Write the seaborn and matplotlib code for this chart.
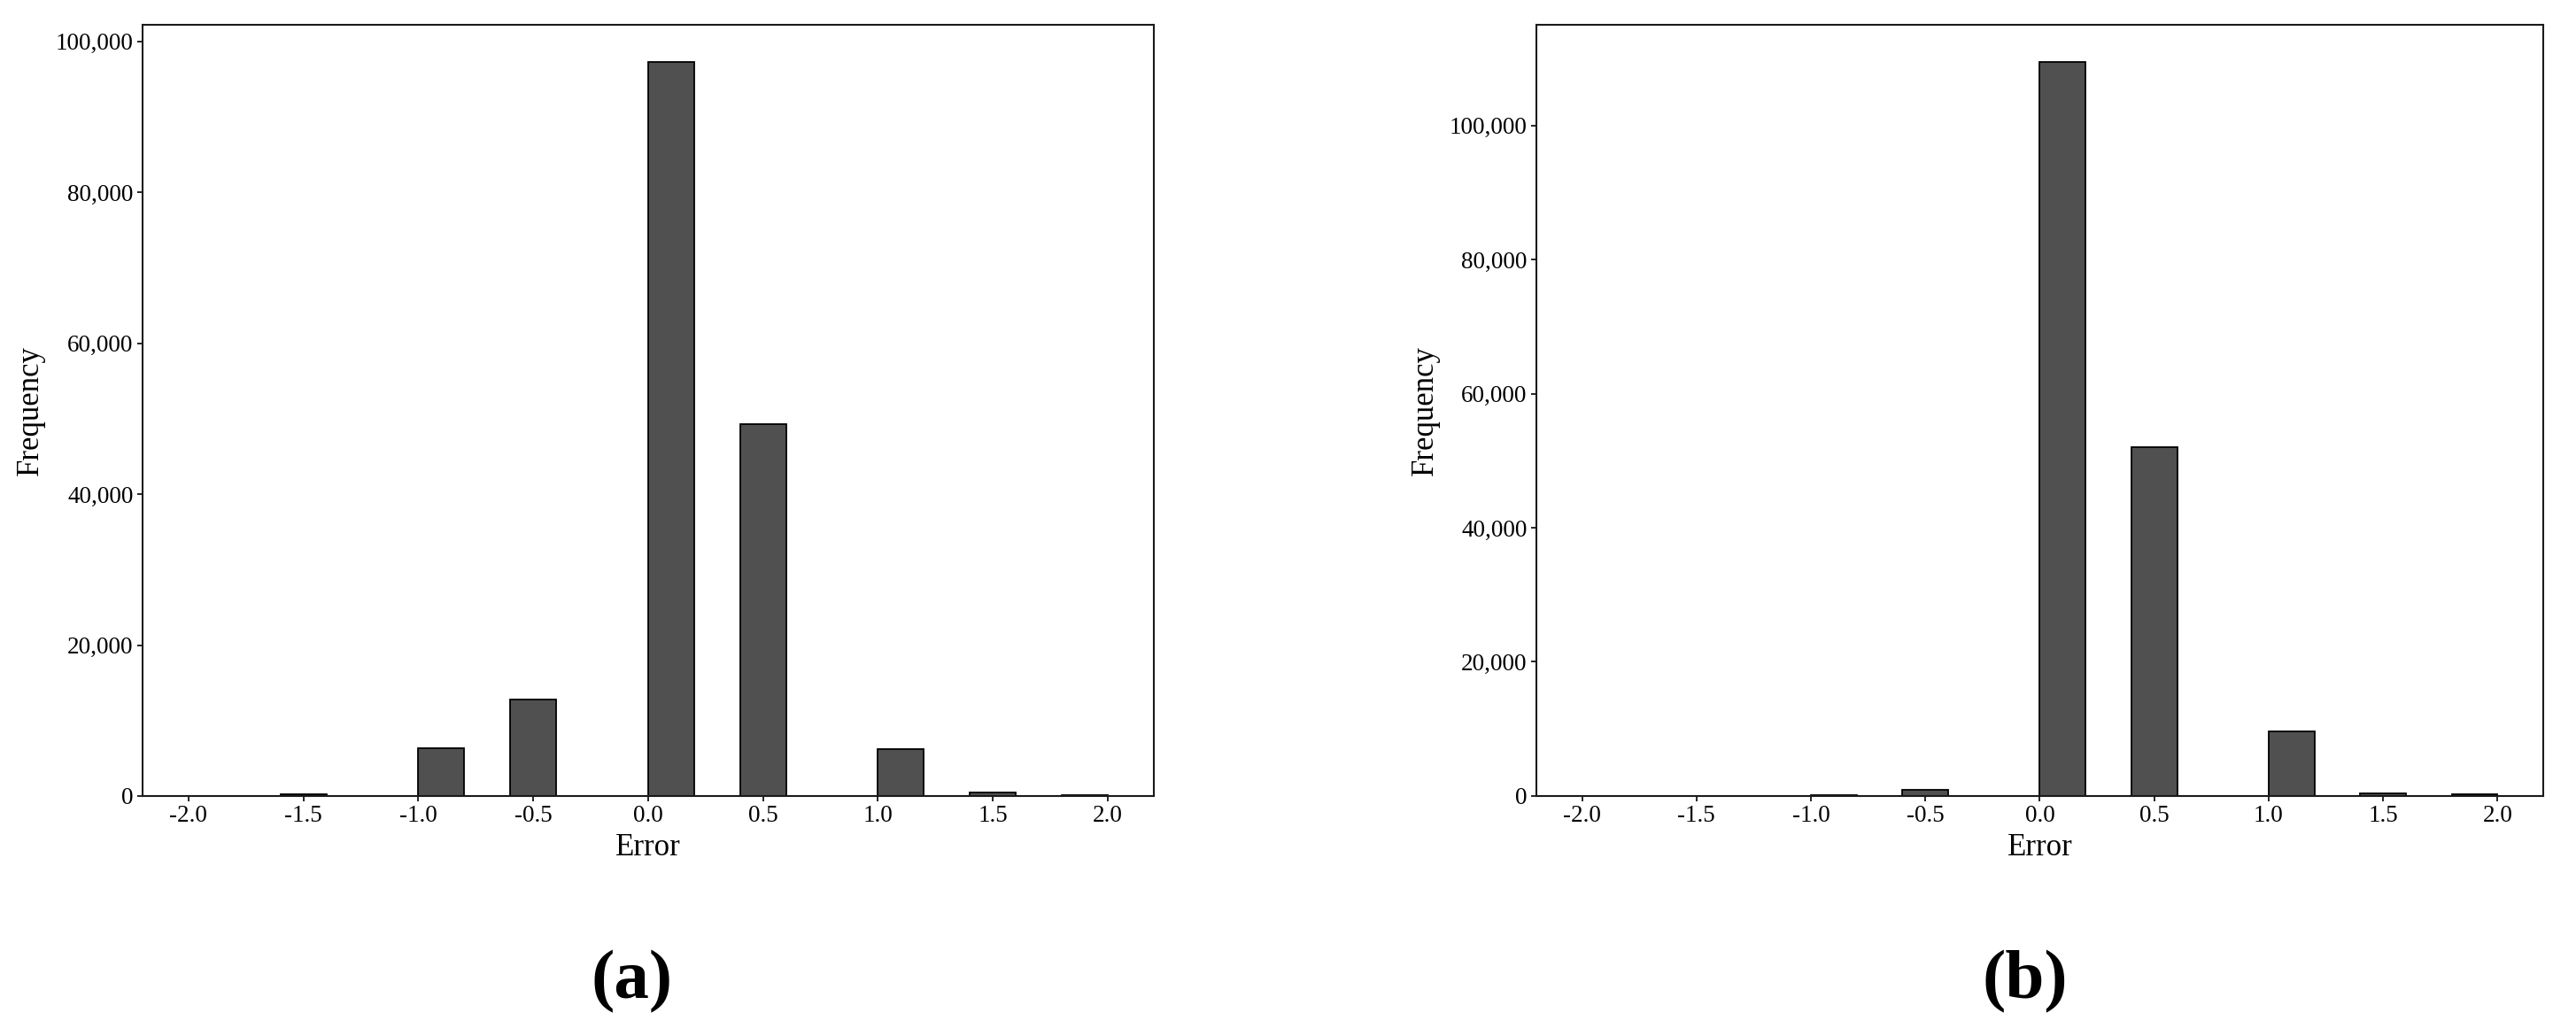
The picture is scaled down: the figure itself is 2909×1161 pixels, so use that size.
import matplotlib

matplotlib.use("Agg")
import matplotlib.pyplot as plt
import seaborn as sns

# error values (bin positions) and their frequencies
errors = [-1.5, -1.0, -0.5, 0.0, 0.5, 1.0, 1.5, 2.0]
freq_a = [250, 6300, 12800, 97300, 49300, 6200, 500, 120]
freq_b = [40, 100, 920, 109500, 52000, 9600, 420, 250]
panel_labels = ["(a)", "(b)"]
x_ticks = [-2.0, -1.5, -1.0, -0.5, 0.0, 0.5, 1.0, 1.5, 2.0]

sns.set_style("ticks")
plt.rcParams["font.family"] = ["Liberation Serif", "DejaVu Serif"]
plt.rcParams["axes.unicode_minus"] = False
plt.rcParams["text.color"] = "black"
plt.rcParams["axes.labelcolor"] = "black"
plt.rcParams["xtick.color"] = "black"
plt.rcParams["ytick.color"] = "black"

fig = plt.figure(figsize=(29.09, 11.61), dpi=100)
ax_a = fig.add_axes([0.0553, 0.2257, 0.3926, 0.750])
ax_b = fig.add_axes([0.5964, 0.2257, 0.3909, 0.750])

label_x = [0.2454, 0.786]

for ax, freq, label, lx in zip([ax_a, ax_b], [freq_a, freq_b], panel_labels, label_x):
    sns.histplot(
        x=errors,
        weights=freq,
        bins=20,
        binrange=(-2, 2),
        color="#505050",
        edgecolor="black",
        linewidth=1.3,
        alpha=1,
        ax=ax,
    )
    ax.set_xticks(x_ticks)
    ax.set_xticklabels([f"{t:.1f}" for t in x_ticks])
    ax.yaxis.set_major_formatter(matplotlib.ticker.StrMethodFormatter("{x:,.0f}"))
    ax.tick_params(labelsize=19.5, length=4, width=1.2)
    ax.set_xlabel("Error", fontsize=25, labelpad=5)
    ax.set_ylabel("Frequency", fontsize=25, labelpad=8)
    for s in ax.spines.values():
        s.set_linewidth(1.5)
        s.set_color("#1a1a1a")
    fig.text(
        lx,
        0.045,
        label,
        ha="center",
        va="center",
        fontsize=57,
        fontweight="bold",
    )

plt.savefig("out.png", dpi=100)
plt.close()
